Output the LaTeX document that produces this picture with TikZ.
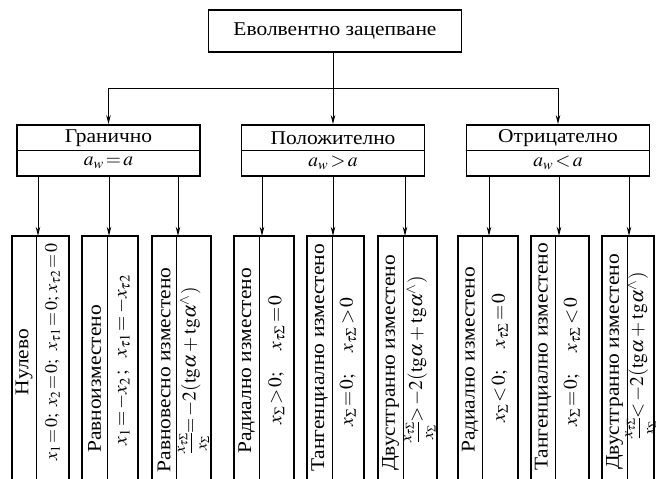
\documentclass[tikz,border=0pt]{standalone}
\usepackage{mathptmx}
\usepackage{fontspec}
\setmainfont{Liberation Serif}[FakeStretch=1.1]
\usetikzlibrary{arrows.meta}
\newcommand{\fracsz}[2]{{\fontsize{16}{18}\selectfont$\displaystyle\frac{#1}{#2}$}}
\begin{document}
\begin{tikzpicture}[x=1pt,y=-1pt,
  box/.style={draw,line width=1.8pt},
  divline/.style={line width=0.8pt},
  conn/.style={line width=0.9pt,-{Stealth[length=9pt,width=4.5pt]}},
  lbl/.style={font=\fontsize{19.5}{22}\selectfont, inner sep=0pt},
  vlbl/.style={lbl, rotate=90},
  midbox/.style={box, minimum width=183pt, minimum height=51pt, inner sep=0pt},
  botbox/.style={minimum height=243pt, inner sep=0pt},
]
\useasboundingbox (0,0) rectangle (656,479);
\clip (0,0) rectangle (656,479);

% top
\node[box, lbl, minimum width=253pt, minimum height=42pt] (top) at (335,31) {Еволвентно зацепване};

% middle boxes
\node[midbox] (g) at (108.5,150.5) {};
\node[midbox] (p) at (333,150.5) {};
\node[midbox] (o) at (558,150.5) {};
\foreach \n in {g,p,o} \draw[divline] (\n.west) -- (\n.east);
\node[lbl] (gt) at (108.5,138) {Гранично};
\node[lbl] (gm) at (108.5,163) {$a_w\!=\!a$};
\node[lbl] (pt) at (333,138) {Положително};
\node[lbl] (pm) at (333,163) {$a_w\!>\!a$};
\node[lbl] (ot) at (558,138) {Отрицателно};
\node[lbl] (om) at (558,163) {$a_w\!<\!a$};

% connectors top -> middle
\coordinate (jl) at (108.5,88);
\coordinate (jr) at (558,88);
\draw[conn] (top.south -| p.north) -- (p.north);
\draw[divline] (jl) -- (jr);
\draw[conn] (jl) -- (g.north);
\draw[conn] (jr) -- (o.north);

% bottom boxes: name, left, divider, right
\foreach \nm/\l/\d/\r in {b1/12/36/69, b2/82/107/138, b3/152/176/211,
                          b4/234/259/294, b5/307/332/364, b6/378/403/437,
                          b7/458/482/518, b8/531/555/589, b9/602/627/654}{
  \node[botbox, minimum width={(\r-\l)*1pt}] (\nm) at ({(\l+\r)/2},357.5) {};
  \draw[box] (\nm.south west) -- (\nm.north west) -- (\nm.north east) -- (\nm.south east);
  \draw[divline] (\d,236) -- (\d,479);
}

% connectors middle -> bottom
\draw[conn] (g.south -| 38,0) -- (b1.north -| 38,0);
\draw[conn] (g.south -| 109,0) -- (b2.north -| 109,0);
\draw[conn] (g.south -| 178,0) -- (b3.north -| 178,0);
\draw[conn] (p.south -| 262,0) -- (b4.north -| 262,0);
\draw[conn] (p.south -| 333,0) -- (b5.north -| 333,0);
\draw[conn] (p.south -| 405,0) -- (b6.north -| 405,0);
\draw[conn] (o.south -| 489,0) -- (b7.north -| 489,0);
\draw[conn] (o.south -| 559,0) -- (b8.north -| 559,0);
\draw[conn] (o.south -| 629,0) -- (b9.north -| 629,0);

% bottom texts
\node[vlbl] (n1) at (24,362) {Нулево};
\node[vlbl, font=\fontsize{18}{20}\selectfont] (f1) at (52.5,352) {$x_1\!=\!0;\ x_2\!=\!0;\ \,x_{\tau1}\!=\!0;\,x_{\tau2}\!=\!0$};
\node[vlbl] (n2) at (94.5,379) {Равноизместено};
\node[vlbl] (f2) at (122.5,360) {$x_1\!=\!-x_2\,;\ \ x_{\tau1}\!=\!-x_{\tau2}$};
\node[vlbl] (n3) at (164,370) {Равновесно изместено};
\node[vlbl] (f3) at (193.5,371) {\fracsz{x_{\tau\Sigma}}{x_\Sigma}$\!=\!-2(\mathrm{tg}\alpha+\mathrm{tg}\alpha^{\wedge})$};

\node[vlbl] (n4) at (246.5,361) {Радиално изместено};
\node[vlbl] (f4) at (276.5,360) {$x_\Sigma\!>\!0;\quad x_{\tau\Sigma}\!=\!0$};
\node[vlbl] (n5) at (319.5,358) {Тангенциално изместено};
\node[vlbl] (f5) at (348,362) {$x_\Sigma\!=\!0;\quad x_{\tau\Sigma}\!>\!0$};
\node[vlbl] (n6) at (390.5,363) {Двустгранно изместено};
\node[vlbl] (f6) at (420,360) {\fracsz{x_{\tau\Sigma}}{x_\Sigma}$\!>\!-2(\mathrm{tg}\alpha+\mathrm{tg}\alpha^{\wedge})$};

\node[vlbl] (n7) at (470,360) {Радиално изместено};
\node[vlbl] (f7) at (500,358) {$x_\Sigma\!<\!0;\quad x_{\tau\Sigma}\!=\!0$};
\node[vlbl] (n8) at (543,357) {Тангенциално изместено};
\node[vlbl] (f8) at (572,362) {$x_\Sigma\!=\!0;\quad x_{\tau\Sigma}\!<\!0$};
\node[vlbl] (n9) at (614.5,362) {Двустгранно изместено};
\node[vlbl] (f9) at (641,356) {\fracsz{x_{\tau\Sigma}}{x_\Sigma}$\!<\!-2(\mathrm{tg}\alpha+\mathrm{tg}\alpha^{\wedge})$};
\end{tikzpicture}
\end{document}
